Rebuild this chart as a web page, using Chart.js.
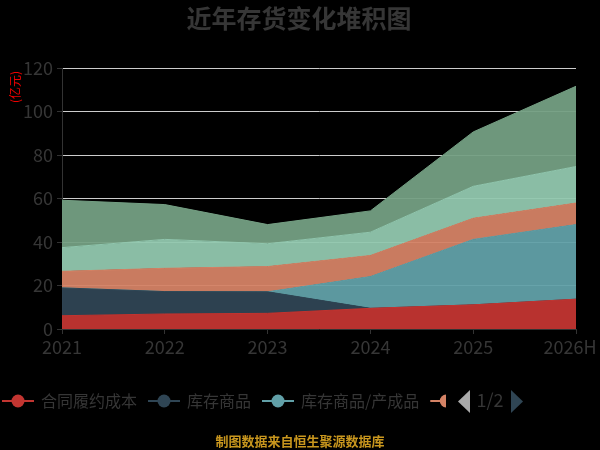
<!DOCTYPE html>
<html>
<head>
<meta charset="utf-8">
<script src="https://cdn.jsdelivr.net/npm/chart.js@4"></script>
<style>
  html, body { margin: 0; padding: 0; background: #000; }
  #wrap { width: 600px; height: 450px; }
</style>
</head>
<body>
<div id="wrap"><canvas id="myChart" width="600" height="450"></canvas></div>
<script>
const years = ["2021", "2022", "2023", "2024", "2025", "2026H"];
const seriesNames = ["合同履约成本", "库存商品", "库存商品/产成品", "原材料", "在产品", "其他"];
const contractCost = [6.1, 6.9, 7.2, 9.5, 11.1, 13.7];
const goods = [12.8, 10.3, 9.9, 0, 0, 0];
const finishedGoods = [0, 0, 0, 14.6, 30.1, 34.3];
const rawMaterials = [7.6, 10.7, 11.6, 9.7, 9.7, 9.9];
const wip = [10.9, 13.3, 10.5, 10.7, 14.7, 16.8];
const others = [21.8, 16.0, 8.8, 9.8, 25.0, 36.9];
const yTicks = [0, 20, 40, 60, 80, 100, 120];

const colors = ["#c23531", "#2f4554", "#61a0a8", "#d48265", "#91c7ae", "#749f83"];
const values = [contractCost, goods, finishedGoods, rawMaterials, wip, others];
const CJK = "'Noto Sans CJK SC', 'Noto Sans', sans-serif";
const TEXT = "#363636";

const hexA = (hex, a) => {
  const n = parseInt(hex.slice(1), 16);
  return `rgba(${n >> 16}, ${(n >> 8) & 255}, ${n & 255}, ${a})`;
};

const datasets = values.map((data, i) => ({
  label: seriesNames[i],
  data: data,
  borderColor: colors[i],
  backgroundColor: hexA(colors[i], 0.95),
  borderWidth: 1,
  pointRadius: 0,
  pointHoverRadius: 0,
  tension: 0,
  fill: i === 0 ? "origin" : "-1",
}));

// title, unit label, paged legend and footer, drawn like the original
const decorations = {
  id: "decorations",
  afterDraw(chart) {
    const ctx = chart.ctx;
    ctx.save();
    ctx.textBaseline = "middle";

    ctx.fillStyle = TEXT;
    ctx.font = `bold 25px ${CJK}`;
    ctx.textAlign = "center";
    ctx.fillText("近年存货变化堆积图", 299, 18);

    ctx.save();
    ctx.translate(15, 87);
    ctx.rotate(-Math.PI / 2);
    ctx.fillStyle = "#ee0000";
    ctx.font = `12px ${CJK}`;
    ctx.fillText("(亿元)", 0, 0);
    ctx.restore();

    // legend page 1, clipped before the pager
    ctx.save();
    ctx.beginPath();
    ctx.rect(0, 380, 446, 40);
    ctx.clip();
    ctx.font = `16px ${CJK}`;
    ctx.textAlign = "left";
    let x = 2;
    const ly = 401;
    chart.data.datasets.forEach((ds) => {
      ctx.strokeStyle = ds.borderColor;
      ctx.lineWidth = 2;
      ctx.beginPath();
      ctx.moveTo(x, ly);
      ctx.lineTo(x + 32, ly);
      ctx.stroke();
      ctx.fillStyle = ds.borderColor;
      ctx.beginPath();
      ctx.arc(x + 16, ly, 6.5, 0, Math.PI * 2);
      ctx.fill();
      ctx.fillStyle = TEXT;
      ctx.fillText(ds.label, x + 39, ly);
      x += 39 + ctx.measureText(ds.label).width + 11;
    });
    ctx.restore();

    // pager
    ctx.fillStyle = "#aaaaaa";
    ctx.beginPath();
    ctx.moveTo(470, 390);
    ctx.lineTo(458, 401.5);
    ctx.lineTo(470, 413);
    ctx.closePath();
    ctx.fill();
    ctx.fillStyle = "#2f4554";
    ctx.beginPath();
    ctx.moveTo(511, 390);
    ctx.lineTo(523, 401.5);
    ctx.lineTo(511, 413);
    ctx.closePath();
    ctx.fill();
    ctx.fillStyle = TEXT;
    ctx.font = `18px ${CJK}`;
    ctx.textAlign = "center";
    ctx.fillText("1/2", 490, 400);

    ctx.fillStyle = "#c8961e";
    ctx.font = `bold 13px ${CJK}`;
    ctx.fillText("制图数据来自恒生聚源数据库", 300, 441);
    ctx.restore();
  },
};

const drawChart = () => {
  const ctx = document.getElementById("myChart").getContext("2d");
  new Chart(ctx, {
    type: "line",
    data: { labels: years, datasets: datasets },
    options: {
      responsive: false,
      animation: false,
      layout: { padding: { top: 68, right: 24, bottom: 91, left: 0 } },
      plugins: {
        legend: { display: false },
        title: { display: false },
        tooltip: { enabled: false },
      },
      scales: {
        x: {
          type: "category",
          offset: false,
          afterFit: (s) => { s.height = 30; s.paddingLeft = 0; s.paddingRight = 0; },
          border: { color: "#333", width: 1 },
          grid: { drawOnChartArea: false, drawTicks: true, tickLength: 5, color: "#333" },
          ticks: {
            color: TEXT,
            font: { size: 18, family: CJK },
            padding: 2,
            maxRotation: 0,
            autoSkip: false,
            // last label sits a little inside the edge, as in the original
            callback: (v, i) => (i === years.length - 1 ? years[i] + "   " : years[i]),
          },
        },
        y: {
          stacked: true,
          min: 0,
          max: 120,
          afterFit: (s) => { s.width = 62; s.paddingTop = 0; s.paddingBottom = 0; },
          afterBuildTicks: (s) => { s.ticks = yTicks.map((v) => ({ value: v })); },
          border: { display: true, color: "#333", width: 1 },
          grid: {
            color: (c) => (c.tick && c.tick.value === 0 ? "rgba(0,0,0,0)" : "#cccccc"),
            tickColor: "#333",
            tickLength: 5,
            lineWidth: 1,
          },
          ticks: { color: TEXT, font: { size: 18, family: CJK }, padding: 4 },
        },
      },
    },
    plugins: [decorations],
  });
};

document.addEventListener("DOMContentLoaded", drawChart);
</script>
</body>
</html>
